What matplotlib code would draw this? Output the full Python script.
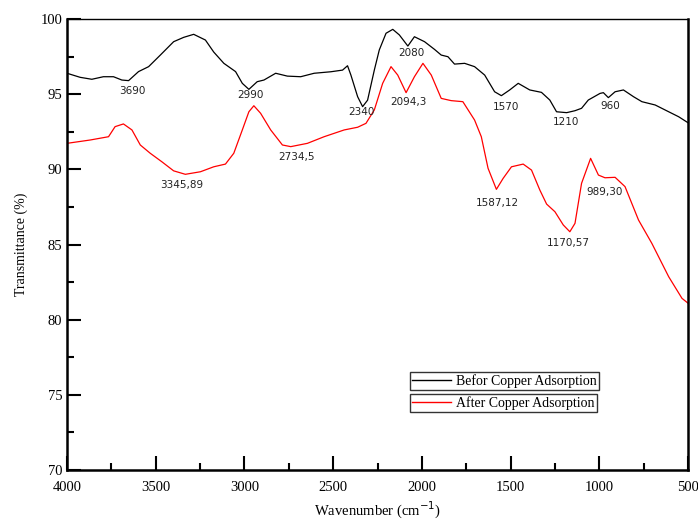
import matplotlib
matplotlib.use("Agg")
import matplotlib.pyplot as plt
from matplotlib.lines import Line2D
from matplotlib.ticker import MultipleLocator

before_w = [4000, 3926, 3860, 3795, 3738, 3691, 3653, 3597, 3540, 3474, 3399, 3342,
            3286, 3220, 3173, 3116, 3050, 3012, 2975, 2928, 2890, 2824, 2758, 2683,
            2607, 2513, 2447, 2419, 2400, 2362, 2334, 2306, 2268, 2240, 2202, 2164,
            2127, 2079, 2042, 1985, 1929, 1891, 1853, 1816, 1759, 1703, 1646, 1590,
            1552, 1505, 1457, 1392, 1326, 1279, 1241, 1184, 1137, 1100, 1062, 996,
            977, 949, 911, 864, 807, 760, 685, 609, 553, 500]
before_t = [96.39, 96.12, 95.99, 96.16, 96.16, 95.94, 95.9, 96.5, 96.83, 97.6, 98.49, 98.78,
            98.98, 98.6, 97.8, 97.05, 96.5, 95.72, 95.32, 95.83, 95.94, 96.39, 96.2, 96.16,
            96.39, 96.49, 96.6, 96.89, 96.27, 94.83, 94.17, 94.6, 96.6, 97.94, 99.05, 99.31,
            98.94, 98.2, 98.82, 98.49, 97.98, 97.6, 97.49, 97.0, 97.05, 96.83, 96.27, 95.16,
            94.9, 95.28, 95.72, 95.28, 95.12, 94.61, 93.83, 93.77, 93.9, 94.06, 94.61, 95.05,
            95.1, 94.77, 95.16, 95.28, 94.83, 94.5, 94.28, 93.83, 93.5, 93.1]

after_w = [4000, 3870, 3766, 3729, 3682, 3634, 3587, 3531, 3465, 3399, 3333, 3248,
           3173, 3107, 3060, 3012, 2975, 2947, 2909, 2852, 2786, 2739, 2645, 2551,
           2438, 2362, 2315, 2268, 2221, 2174, 2136, 2089, 2042, 1994, 1947, 1891,
           1835, 1769, 1703, 1665, 1627, 1580, 1542, 1495, 1429, 1382, 1335, 1297,
           1250, 1203, 1166, 1137, 1100, 1049, 1005, 968, 911, 855, 779, 704,
           609, 534, 500]
after_t = [91.73, 91.95, 92.17, 92.84, 93.02, 92.62, 91.62, 91.07, 90.5, 89.9, 89.67, 89.84,
           90.17, 90.35, 91.07, 92.62, 93.83, 94.23, 93.73, 92.62, 91.62, 91.51, 91.73, 92.17,
           92.62, 92.8, 93.06, 93.95, 95.72, 96.83, 96.27, 95.1, 96.16, 97.05, 96.27, 94.72,
           94.57, 94.5, 93.28, 92.17, 90.07, 88.67, 89.4, 90.17, 90.35, 89.95, 88.62, 87.69,
           87.18, 86.3, 85.85, 86.41, 89.07, 90.73, 89.62, 89.44, 89.47, 88.85, 86.63, 85.08,
           82.86, 81.42, 81.1]

peak_labels = ["3690", "2990", "2340", "2080", "2094,3", "1570", "1210", "960",
               "3345,89", "2734,5", "1587,12", "1170,57", "989,30"]
peak_w = [3634, 2965, 2338, 2061, 2076, 1524, 1185, 939,
          3352, 2705, 1574, 1172, 973]
peak_t = [95.23, 94.94, 93.79, 97.72, 94.5, 94.13, 93.17, 94.2,
          88.96, 90.84, 87.78, 85.08, 88.51]

series_labels = ["Befor Copper Adsorption", "After Copper Adsorption"]

fig = plt.figure(figsize=(6.98, 5.2), dpi=100)
ax = fig.add_axes([0.096, 0.096, 0.8897, 0.8675])

ax.plot(before_w, before_t, color="black", lw=0.9)
ax.plot(after_w, after_t, color="red", lw=0.9)

for lab, w, t in zip(peak_labels, peak_w, peak_t):
    ax.text(w, t, lab, fontsize=7.5, family="DejaVu Sans", color="#222222",
            ha="center", va="center")

ax.set_xlim(4000, 500)
ax.set_ylim(70, 100)
ax.xaxis.set_major_locator(MultipleLocator(500))
ax.xaxis.set_minor_locator(MultipleLocator(250))
ax.yaxis.set_major_locator(MultipleLocator(5))
ax.yaxis.set_minor_locator(MultipleLocator(2.5))
ax.tick_params(which="major", direction="in", length=10, width=1.5,
               top=False, right=False, labelsize=10.5)
ax.tick_params(which="minor", direction="in", length=5, width=1.5,
               top=False, right=False)
for lab in ax.get_xticklabels() + ax.get_yticklabels():
    lab.set_family("Liberation Serif")
ax.tick_params(axis="x", pad=8)

for s in ["left", "bottom", "right"]:
    ax.spines[s].set_linewidth(1.8)
ax.spines["top"].set_linewidth(1.0)

ax.set_ylabel("Transmittance (%)", family="Liberation Serif", fontsize=10, labelpad=9)
ax.set_xlabel("Wavenumber (cm$^{-1}$)", family="Liberation Serif", fontsize=10.5,
              labelpad=4)

h1 = Line2D([], [], color="black", lw=1)
h2 = Line2D([], [], color="red", lw=1)
leg_kw = dict(frameon=True, fancybox=False, edgecolor="black", handlelength=2.8,
              borderpad=0.15, handletextpad=0.4, borderaxespad=0,
              prop={"family": "Liberation Serif", "size": 10})
leg1 = ax.legend([h1], [series_labels[0]], loc="upper left",
                 bbox_to_anchor=(0.552, 0.218), **leg_kw)
leg1.get_frame().set_linewidth(1.0)
ax.add_artist(leg1)
leg2 = ax.legend([h2], [series_labels[1]], loc="upper left",
                 bbox_to_anchor=(0.552, 0.168), **leg_kw)
leg2.get_frame().set_linewidth(1.0)

fig.savefig("out.png", dpi=100)
